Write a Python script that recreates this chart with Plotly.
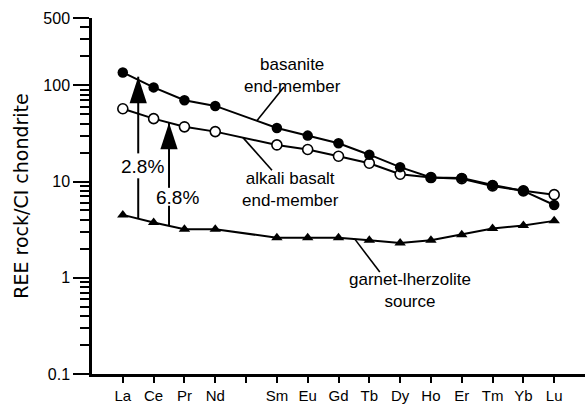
import numpy as np
import plotly.graph_objects as go

# ---------------- data ----------------
elements = ["La", "Ce", "Pr", "Nd", "Pm", "Sm", "Eu", "Gd", "Tb", "Dy", "Ho", "Er", "Tm", "Yb", "Lu"]
tick_labels = ["La", "Ce", "Pr", "Nd", "", "Sm", "Eu", "Gd", "Tb", "Dy", "Ho", "Er", "Tm", "Yb", "Lu"]
basanite = [136, 95, 70, 61, None, 36, 30, 25, 19, 14.1, 11, 10.9, 9.2, 8.0, 5.7]
alkali_basalt = [57, 45, 37, 33, None, 24, 21.5, 18.3, 15.5, 11.9, 11, 10.7, 9.0, 8.0, 7.3]
garnet_lherzolite = [4.5, 3.75, 3.2, 3.2, None, 2.6, 2.6, 2.6, 2.45, 2.3, 2.45, 2.8, 3.25, 3.5, 3.9]
y_tick_vals = [0.1, 1, 10, 100, 500]
y_tick_text = ["0.1", "1", "10", "100", "500"]
melt_percent = ["2.8%", "6.8%"]

x = list(range(len(elements)))
FONT = "Arial, Liberation Sans, sans-serif"


def log_interp(series, xi):
    xs = [i for i, v in zip(x, series) if v is not None]
    ys = [np.log10(v) for v in series if v is not None]
    return 10 ** np.interp(xi, xs, ys)


fig = go.Figure()

# alkali basalt (open circles) drawn first, basanite on top
fig.add_trace(go.Scatter(
    x=x, y=alkali_basalt, mode="lines+markers", connectgaps=True,
    line=dict(color="black", width=2),
    marker=dict(symbol="circle", size=10, color="white", line=dict(color="black", width=1.6)),
    name="alkali basalt end-member", showlegend=False, hoverinfo="skip"))
fig.add_trace(go.Scatter(
    x=x, y=basanite, mode="lines+markers", connectgaps=True,
    line=dict(color="black", width=2),
    marker=dict(symbol="circle", size=10.5, color="black"),
    name="basanite end-member", showlegend=False, hoverinfo="skip"))
fig.add_trace(go.Scatter(
    x=x, y=garnet_lherzolite, mode="lines+markers", connectgaps=True,
    line=dict(color="black", width=2),
    marker=dict(symbol="triangle-up", size=10, color="black"),
    name="garnet-lherzolite source", showlegend=False, hoverinfo="skip"))

# ---------------- melting arrows ----------------
arrow_x = [0.5, 1.5]
arrow_targets = [basanite, alkali_basalt]
tip_scale = [1.08, 1.0]
gap_low = [10.8, 5.6]     # top of the lower shaft segment (below label)
gap_high = [19.6, 8.6]    # bottom of the upper shaft segment (above label)
label_pos = [(0.63, 14.2), (1.77, 6.85)]

shaft_x, shaft_y, tip_x, tip_y = [], [], [], []
for ax_, tgt, sc, lo, hi in zip(arrow_x, arrow_targets, tip_scale, gap_low, gap_high):
    base = log_interp(garnet_lherzolite, ax_)
    tip = log_interp(tgt, ax_) * sc
    shaft_x += [ax_, ax_, None, ax_, ax_, None]
    shaft_y += [base, lo, None, hi, tip, None]
    tip_x.append(ax_)
    tip_y.append(tip)

fig.add_trace(go.Scatter(x=shaft_x, y=shaft_y, mode="lines",
                         line=dict(color="black", width=2),
                         showlegend=False, hoverinfo="skip"))
fig.add_trace(go.Scatter(x=tip_x, y=tip_y, mode="markers",
                         marker=dict(symbol="arrow", size=28, color="black", line=dict(width=0)),
                         showlegend=False, hoverinfo="skip"))

for txt, (lx, ly) in zip(melt_percent, label_pos):
    fig.add_annotation(x=lx, y=np.log10(ly), text=txt, showarrow=False,
                       font=dict(family=FONT, size=19, color="black"))

# ---------------- curve labels with leader lines ----------------
leaders = [
    (basanite, 4.35, 5.23, 95.7),
    (alkali_basalt, 3.9, 4.84, 13.1),
    (garnet_lherzolite, 7.53, 8.34, 1.145),
]
lx_all, ly_all = [], []
for ser, x0, x1, y1 in leaders:
    lx_all += [x0, x1, None]
    ly_all += [log_interp(ser, x0), y1, None]
fig.add_trace(go.Scatter(x=lx_all, y=ly_all, mode="lines",
                         line=dict(color="black", width=1.6),
                         showlegend=False, hoverinfo="skip"))

curve_labels = [
    ("basanite<br>end-member", 5.52, 2.104),
    ("alkali basalt<br>end-member", 5.45, 0.922),
    ("garnet-lherzolite<br>source", 9.32, -0.137),
]
for txt, lx, lly in curve_labels:
    fig.add_annotation(x=lx, y=lly, text=txt, showarrow=False,
                       font=dict(family=FONT, size=17, color="black"))

minor_vals = [m * 10.0 ** e for e in (-1, 0, 1) for m in range(2, 10)] + [200, 300, 400]

fig.update_layout(
    width=588, height=407, autosize=False,
    margin=dict(l=92, r=3, t=18, b=29),
    paper_bgcolor="white", plot_bgcolor="white",
    font=dict(family=FONT, color="black"),
    xaxis=dict(
        range=[-1, 15], tickmode="array", tickvals=x, ticktext=tick_labels,
        showline=True, linewidth=2.5, linecolor="black", mirror=False,
        ticks="outside", ticklen=6, tickwidth=2, tickcolor="black",
        tickfont=dict(family=FONT, size=15, color="black"),
        showgrid=False, zeroline=False,
    ),
    yaxis=dict(
        type="log", range=[-1, np.log10(500)],
        tickmode="array", tickvals=y_tick_vals, ticktext=y_tick_text,
        showline=True, linewidth=2.5, linecolor="black",
        ticks="outside", ticklen=16, tickwidth=2, tickcolor="black",
        tickfont=dict(family=FONT, size=16, color="black"),
        minor=dict(tickmode="array", tickvals=minor_vals, ticks="outside",
                   ticklen=9, tickwidth=2, tickcolor="black", showgrid=False),
        showgrid=False, zeroline=False,
        title=dict(text="REE rock/CI chondrite", standoff=10,
                   font=dict(family="DejaVu Sans", size=19, color="black")),
    ),
)

fig.write_html("out.html")
